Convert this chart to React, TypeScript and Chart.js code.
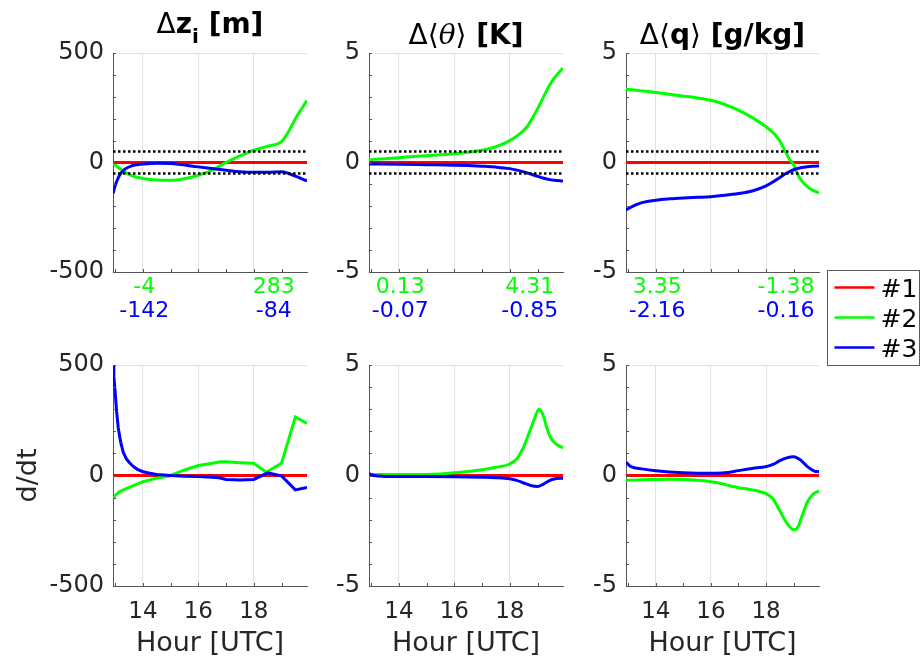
import React, { useEffect, useRef } from 'react';
import { Chart, registerables } from 'chart.js';

Chart.register(...registerables);

const FONT = '"DejaVu Sans", sans-serif';
const TEXT = '#262626';
const AXIS = '#555555';
const GRID = '#e3e3e3';
const RED = '#ff0000';
const GREEN = '#00ff00';
const BLUE = '#0000ff';

// ---------- axes ----------
const X_MIN = 12.92;
const X_MAX = 19.92;
const HOUR_TICKS = [13, 14, 15, 16, 17, 18, 19];
const HOUR_LABELS = [14, 16, 18];
const ZI_TICKS = [-500, -400, -300, -200, -100, 0, 100, 200, 300, 400, 500];
const ZI_LABELS = [-500, 0, 500];
const TQ_TICKS = [-5, -4, -3, -2, -1, 0, 1, 2, 3, 4, 5];
const TQ_LABELS = [-5, 0, 5];

// ---------- reference (#1) and threshold bands ----------
const REF_HOURS = [12.92, 19.92];
const REF_VALUES = [0, 0];
const ZI_BAND = [-50, 50];
const TQ_BAND = [-0.5, 0.5];

// ---------- top row: differences ----------
const DZI_G_H = [12.92, 13.25, 13.55, 14, 14.5, 15, 15.5, 16, 16.5, 17, 17.5, 18, 18.5, 19, 19.25, 19.5, 19.75, 19.92];
const DZI_G_V = [-4, -35, -58, -73, -80, -81, -74, -58, -35, 0, 30, 56, 75, 95, 140, 200, 250, 283];
const DZI_B_H = [12.92, 13.0, 13.1, 13.2, 13.35, 13.6, 13.8, 14, 14.5, 15, 16, 17, 17.5, 18, 18.5, 19, 19.25, 19.5, 19.92];
const DZI_B_V = [-142, -105, -72, -50, -30, -15, -10, -7, -3, -5, -20, -35, -42, -45, -45, -42, -50, -62, -84];

const DTH_G_H = [12.92, 13.5, 14, 14.5, 15, 15.5, 16, 16.5, 17, 17.5, 18, 18.3, 18.6, 18.8, 19.0, 19.2, 19.4, 19.6, 19.8, 19.92];
const DTH_G_V = [0.13, 0.17, 0.22, 0.27, 0.31, 0.35, 0.4, 0.47, 0.56, 0.72, 1.0, 1.25, 1.6, 2.0, 2.45, 2.95, 3.45, 3.85, 4.15, 4.31];
const DTH_B_H = [12.92, 14, 15, 16, 16.5, 17, 17.5, 18, 18.3, 18.6, 18.8, 19.0, 19.2, 19.4, 19.6, 19.92];
const DTH_B_V = [-0.07, -0.08, -0.1, -0.12, -0.14, -0.17, -0.21, -0.28, -0.36, -0.46, -0.55, -0.63, -0.71, -0.77, -0.81, -0.85];

const DQ_G_H = [12.92, 13.5, 14, 14.5, 15, 15.5, 16, 16.5, 17, 17.5, 18, 18.3, 18.5, 18.7, 18.85, 19.0, 19.15, 19.3, 19.5, 19.7, 19.92];
const DQ_G_V = [3.35, 3.27, 3.2, 3.12, 3.03, 2.95, 2.84, 2.65, 2.39, 2.05, 1.63, 1.3, 0.98, 0.5, 0.15, -0.1, -0.55, -0.85, -1.1, -1.27, -1.38];
const DQ_B_H = [12.92, 13.25, 13.5, 14, 14.5, 15, 15.5, 16, 16.5, 17, 17.5, 18, 18.3, 18.5, 18.75, 19.0, 19.25, 19.5, 19.75, 19.92];
const DQ_B_V = [-2.16, -1.95, -1.83, -1.72, -1.66, -1.62, -1.59, -1.56, -1.5, -1.42, -1.3, -1.07, -0.85, -0.68, -0.48, -0.33, -0.24, -0.19, -0.17, -0.16];

// ---------- bottom row: tendencies (d/dt) ----------
const TZI_G_H = [12.92, 13.0, 13.16, 13.46, 14, 14.5, 15, 15.5, 16, 16.5, 16.8, 17, 17.5, 18, 18.45, 19, 19.5, 19.92];
const TZI_G_V = [-105, -90, -73, -56, -28, -12, 0, 25, 45, 55, 62, 62, 58, 55, 15, 55, 265, 236];
const TZI_B_H = [12.92, 12.95, 12.99, 13.05, 13.11, 13.2, 13.29, 13.4, 13.5, 13.65, 13.8, 14, 14.25, 14.5, 15, 15.5, 16, 16.5, 16.75, 17, 17.5, 18, 18.5, 19, 19.5, 19.92];
const TZI_B_V = [500, 450, 390, 290, 215, 150, 105, 76, 60, 41, 28, 17, 10, 5, 0, -3, -5, -8, -10, -18, -20, -18, 12, -2, -65, -54];

const TTH_G_H = [12.92, 13.5, 14, 14.5, 15, 15.5, 16, 16.5, 17, 17.5, 18, 18.25, 18.5, 18.75, 18.9, 19.05, 19.2, 19.35, 19.5, 19.7, 19.92];
const TTH_G_V = [0.05, 0.04, 0.04, 0.05, 0.05, 0.07, 0.12, 0.18, 0.26, 0.37, 0.52, 0.75, 1.3, 2.1, 2.6, 3.0, 2.75, 2.1, 1.65, 1.4, 1.25];
const TTH_B_H = [12.92, 13.1, 13.5, 14, 15, 16, 17, 17.5, 18, 18.25, 18.5, 18.75, 19.0, 19.2, 19.4, 19.6, 19.92];
const TTH_B_V = [0.08, 0.0, -0.04, -0.05, -0.05, -0.06, -0.08, -0.1, -0.15, -0.22, -0.34, -0.45, -0.5, -0.4, -0.25, -0.16, -0.12];

const TQ_G_H = [12.92, 13.5, 14, 14.5, 15, 15.5, 16, 16.5, 16.8, 17, 17.5, 18, 18.25, 18.5, 18.75, 19.0, 19.15, 19.3, 19.5, 19.7, 19.92];
const TQ_G_V = [-0.22, -0.19, -0.18, -0.17, -0.18, -0.22, -0.28, -0.4, -0.5, -0.55, -0.65, -0.82, -1.05, -1.6, -2.15, -2.45, -2.35, -1.85, -1.2, -0.85, -0.7];
const TQ_B_H = [12.92, 13.1, 13.5, 14, 15, 16, 16.5, 17, 17.5, 18, 18.25, 18.5, 18.75, 19.0, 19.25, 19.5, 19.75, 19.92];
const TQ_B_V = [0.6, 0.4, 0.3, 0.22, 0.13, 0.1, 0.12, 0.22, 0.32, 0.4, 0.5, 0.67, 0.8, 0.85, 0.7, 0.4, 0.2, 0.17];

// ---------- texts ----------
const GREEN_NOTES = [['-4', '283'], ['0.13', '4.31'], ['3.35', '-1.38']];
const BLUE_NOTES = [['-142', '-84'], ['-0.07', '-0.85'], ['-2.16', '-0.16']];
const NOTE_HOURS = [14.05, 18.72];
const LEGEND_LABELS = ['#1', '#2', '#3'];
const LEGEND_COLORS = [RED, GREEN, BLUE];
const X_TITLE = 'Hour [UTC]';
const Y_TITLE = 'd/dt';

type Run = { t: string; bold?: boolean; italic?: boolean; serif?: boolean; sub?: boolean };
const TITLES: Run[][] = [
  [{ t: 'Δ' }, { t: 'z', bold: true }, { t: 'i', bold: true, sub: true }, { t: ' [m]', bold: true }],
  [{ t: 'Δ⟨' }, { t: 'θ', italic: true, serif: true }, { t: '⟩' }, { t: ' [K]', bold: true }],
  [{ t: 'Δ⟨' }, { t: 'q', bold: true }, { t: '⟩' }, { t: ' [g/kg]', bold: true }],
];

// ---------- layout (plot rectangles) ----------
const COLS = [
  { l: 113, r: 307 },
  { l: 369, r: 563 },
  { l: 626, r: 819 },
];
const ROWS = [
  { t: 53, b: 272 },
  { t: 365, b: 586 },
];
const YW = 80;
const XH = 40;
const W = 920;
const H = 658;

const series = (h: number[], v: number[], color: string, extra: any = {}) => ({
  data: h.map((x, i) => ({ x, y: v[i] })),
  borderColor: color,
  backgroundColor: color,
  borderWidth: 3,
  pointRadius: 0,
  fill: false,
  cubicInterpolationMode: 'monotone',
  ...extra,
});

type PanelCfg = {
  col: number;
  row: number;
  ticks: number[];
  labels: number[];
  band?: number[];
  green: [number[], number[]];
  blue: [number[], number[]];
  linear?: boolean;
};

const PANELS: PanelCfg[] = [
  { col: 0, row: 0, ticks: ZI_TICKS, labels: ZI_LABELS, band: ZI_BAND, green: [DZI_G_H, DZI_G_V], blue: [DZI_B_H, DZI_B_V] },
  { col: 1, row: 0, ticks: TQ_TICKS, labels: TQ_LABELS, band: TQ_BAND, green: [DTH_G_H, DTH_G_V], blue: [DTH_B_H, DTH_B_V] },
  { col: 2, row: 0, ticks: TQ_TICKS, labels: TQ_LABELS, band: TQ_BAND, green: [DQ_G_H, DQ_G_V], blue: [DQ_B_H, DQ_B_V] },
  { col: 0, row: 1, ticks: ZI_TICKS, labels: ZI_LABELS, green: [TZI_G_H, TZI_G_V], blue: [TZI_B_H, TZI_B_V], linear: true },
  { col: 1, row: 1, ticks: TQ_TICKS, labels: TQ_LABELS, green: [TTH_G_H, TTH_G_V], blue: [TTH_B_H, TTH_B_V] },
  { col: 2, row: 1, ticks: TQ_TICKS, labels: TQ_LABELS, green: [TQ_G_H, TQ_G_V], blue: [TQ_B_H, TQ_B_V] },
];

function runFont(r: Run, size: number) {
  const fam = r.serif ? '"DejaVu Serif", serif' : FONT;
  return `${r.italic ? 'italic ' : ''}${r.bold ? 'bold ' : ''}${r.sub ? Math.round(size * 0.7) : size}px ${fam}`;
}

function decorPlugin(p: PanelCfg) {
  return {
    id: 'decor' + p.col + p.row,
    afterDraw(chart: any) {
      const ctx: CanvasRenderingContext2D = chart.ctx;
      const { left, right, top, bottom } = chart.chartArea;
      const xs = chart.scales.x;
      const ys = chart.scales.y;
      ctx.save();
      // inward tick marks
      ctx.strokeStyle = AXIS;
      ctx.lineWidth = 1;
      ctx.beginPath();
      HOUR_TICKS.forEach((v) => {
        const px = Math.round(xs.getPixelForValue(v)) + 0.5;
        ctx.moveTo(px, bottom);
        ctx.lineTo(px, bottom - 3);
      });
      p.ticks.forEach((v) => {
        const py = Math.round(ys.getPixelForValue(v)) + 0.5;
        ctx.moveTo(left, py);
        ctx.lineTo(left + 3, py);
      });
      ctx.stroke();

      const cx = (left + right) / 2;
      if (p.row === 0) {
        // title
        const size = 28;
        const runs = TITLES[p.col];
        let total = 0;
        runs.forEach((r) => {
          ctx.font = runFont(r, size);
          total += ctx.measureText(r.t).width;
        });
        let x = cx - total / 2;
        const base = p.col === 0 ? 33 : 44;
        ctx.fillStyle = '#000000';
        ctx.textAlign = 'left';
        ctx.textBaseline = 'alphabetic';
        runs.forEach((r) => {
          ctx.font = runFont(r, size);
          ctx.fillText(r.t, x, r.sub ? base + 10 : base);
          x += ctx.measureText(r.t).width;
        });
        // start / end values
        ctx.font = `22px ${FONT}`;
        ctx.textAlign = 'center';
        NOTE_HOURS.forEach((hr, i) => {
          const px = xs.getPixelForValue(hr);
          ctx.fillStyle = GREEN;
          ctx.fillText(GREEN_NOTES[p.col][i], px, bottom + 21);
          ctx.fillStyle = BLUE;
          ctx.fillText(BLUE_NOTES[p.col][i], px, bottom + 45);
        });
      } else {
        ctx.fillStyle = TEXT;
        ctx.font = `27px ${FONT}`;
        ctx.textAlign = 'center';
        ctx.textBaseline = 'alphabetic';
        ctx.fillText(X_TITLE, cx, bottom + 65);
        if (p.col === 0) {
          ctx.save();
          ctx.translate(left - 77, (top + bottom) / 2);
          ctx.rotate(-Math.PI / 2);
          ctx.fillText(Y_TITLE, 0, 0);
          ctx.restore();
        }
      }

      // legend (attached to top-right panel)
      if (p.row === 0 && p.col === 2) {
        const bx = right + 8.5;
        const by = bottom - 1.5;
        const bw = 92;
        const bh = 95;
        ctx.fillStyle = '#ffffff';
        ctx.fillRect(bx, by, bw, bh);
        ctx.strokeStyle = '#5a5a5a';
        ctx.lineWidth = 1;
        ctx.strokeRect(bx, by, bw, bh);
        ctx.font = `25px ${FONT}`;
        ctx.textAlign = 'left';
        ctx.textBaseline = 'alphabetic';
        LEGEND_LABELS.forEach((lab, i) => {
          const yy = by + 17 + i * 30;
          ctx.strokeStyle = LEGEND_COLORS[i];
          ctx.lineWidth = 2.4;
          ctx.beginPath();
          ctx.moveTo(bx + 7, yy);
          ctx.lineTo(bx + 47, yy);
          ctx.stroke();
          ctx.fillStyle = '#000000';
          ctx.fillText(lab, bx + 53, yy + 9);
        });
      }
      ctx.restore();
    },
  };
}

function Panel({ p }: { p: PanelCfg }) {
  const ref = useRef<HTMLCanvasElement | null>(null);
  useEffect(() => {
    const c = COLS[p.col];
    const r = ROWS[p.row];
    const yMin = p.ticks[0];
    const yMax = p.ticks[p.ticks.length - 1];
    const datasets: any[] = [];
    if (p.band) {
      p.band.forEach((lvl) => {
        datasets.push(
          series(REF_HOURS, REF_HOURS.map(() => lvl), '#000000', {
            borderWidth: 2.5,
            borderDash: [2.5, 2.5],
            cubicInterpolationMode: 'default',
            tension: 0,
          })
        );
      });
    }
    const lin = p.linear ? { cubicInterpolationMode: 'default', tension: 0 } : {};
    datasets.push(series(p.blue[0], p.blue[1], BLUE, lin));
    datasets.push(series(p.green[0], p.green[1], GREEN, lin));
    datasets.push(series(REF_HOURS, REF_VALUES, RED, { cubicInterpolationMode: 'default', tension: 0 }));

    const chart = new Chart(ref.current as HTMLCanvasElement, {
      type: 'line',
      data: { datasets },
      options: {
        responsive: false,
        animation: false,
        devicePixelRatio: 1,
        events: [],
        layout: {
          autoPadding: false,
          padding: { left: c.l - YW, right: W - c.r, top: r.t, bottom: H - r.b - XH },
        },
        plugins: { legend: { display: false }, tooltip: { enabled: false }, title: { display: false } },
        scales: {
          x: {
            type: 'linear',
            min: X_MIN,
            max: X_MAX,
            afterBuildTicks: (s: any) => {
              s.ticks = HOUR_TICKS.map((v) => ({ value: v }));
            },
            afterFit: (s: any) => {
              s.height = XH;
            },
            grid: {
              drawTicks: false,
              lineWidth: 1,
              color: (g: any) => (HOUR_LABELS.includes(g.tick?.value) ? GRID : 'rgba(0,0,0,0)'),
            },
            border: { display: true, color: AXIS, width: 1 },
            ticks: {
              display: p.row === 1,
              autoSkip: false,
              maxRotation: 0,
              padding: 12,
              color: TEXT,
              font: { family: FONT, size: 23 },
              callback: (v: any) => (HOUR_LABELS.includes(v) ? String(v) : ''),
            },
          },
          y: {
            type: 'linear',
            min: yMin,
            max: yMax,
            afterBuildTicks: (s: any) => {
              s.ticks = p.ticks.map((v) => ({ value: v }));
            },
            afterFit: (s: any) => {
              s.width = YW;
            },
            grid: {
              drawTicks: false,
              lineWidth: 1,
              color: (g: any) => (g.tick?.value === yMax ? GRID : 'rgba(0,0,0,0)'),
            },
            border: { display: true, color: AXIS, width: 1 },
            ticks: {
              autoSkip: false,
              padding: 9,
              color: TEXT,
              font: { family: FONT, size: 24 },
              callback: (v: any) => (p.labels.includes(v) ? String(v) : ''),
            },
          },
        },
      } as any,
      plugins: [decorPlugin(p)],
    });
    return () => chart.destroy();
  }, []);
  return (
    <canvas
      ref={ref}
      width={W}
      height={H}
      style={{ position: 'absolute', left: 0, top: 0, width: W, height: H }}
    />
  );
}

export default function App() {
  return (
    <div style={{ position: 'absolute', left: 0, top: 0, width: W, height: H, background: '#ffffff', overflow: 'hidden' }}>
      {PANELS.map((p) => (
        <Panel key={`${p.row}-${p.col}`} p={p} />
      ))}
    </div>
  );
}
